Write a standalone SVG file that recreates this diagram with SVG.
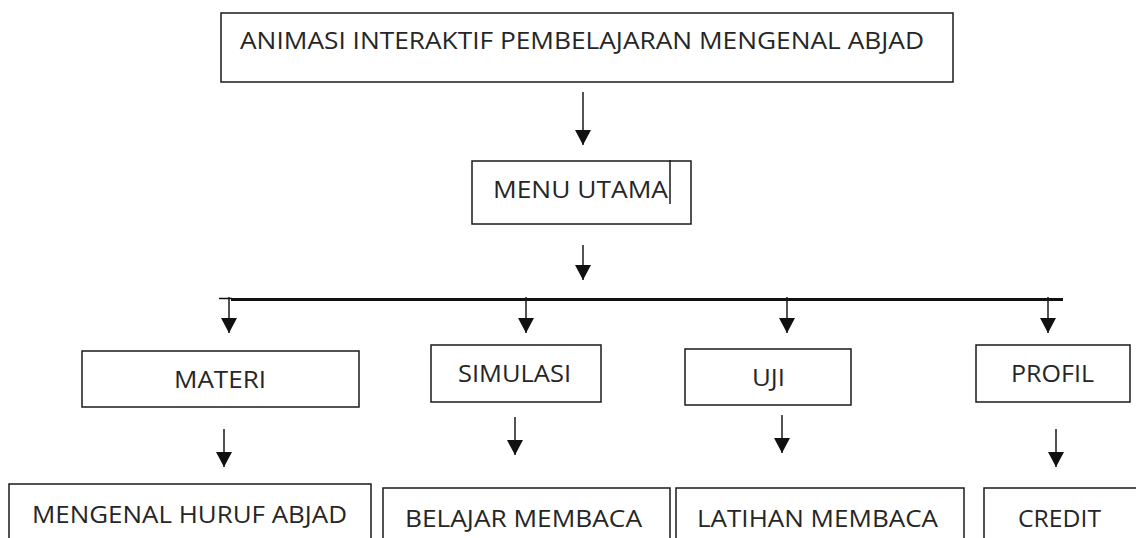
<svg xmlns="http://www.w3.org/2000/svg" width="1136" height="538" viewBox="0 0 1136 538">
<style>
.box{fill:#fff;stroke:#1a1a1a;stroke-width:1.5}
.lbl{font-family:"Open Sans","Noto Sans","Liberation Sans",sans-serif;font-size:23px;fill:#262626}
.arr{stroke:#1a1a1a;stroke-width:1.5;fill:none;marker-end:url(#ah)}
</style>
<defs>
<marker id="ah" viewBox="0 0 15 16" markerUnits="userSpaceOnUse" markerWidth="15" markerHeight="16" refX="15" refY="8" orient="auto">
<path d="M0,0 L15,8 L0,16 Z" fill="#111"/>
</marker>
</defs>
<rect width="1136" height="538" fill="#fff"/>
<g id="connectors">
<line class="arr" x1="583" y1="92" x2="583" y2="145"/>
<line class="arr" x1="583" y1="245" x2="583" y2="280"/>
<line x1="231" y1="299.5" x2="1063" y2="299.5" stroke="#111" stroke-width="3"/>
<line x1="219" y1="298.5" x2="232" y2="298.5" stroke="#111" stroke-width="1.5"/>
<line class="arr" x1="229" y1="297" x2="229" y2="333"/>
<line class="arr" x1="526" y1="297" x2="526" y2="333"/>
<line class="arr" x1="787" y1="297" x2="787" y2="333"/>
<line class="arr" x1="1048" y1="297" x2="1048" y2="333"/>
<line class="arr" x1="224" y1="429" x2="224" y2="467"/>
<line class="arr" x1="515" y1="417" x2="515" y2="455"/>
<line class="arr" x1="782" y1="415" x2="782" y2="453"/>
<line class="arr" x1="1056" y1="429" x2="1056" y2="467"/>
</g>
<g id="node-title">
<rect class="box" x="221" y="13" width="732" height="69"/>
<text class="lbl" x="240" y="49" textLength="684" lengthAdjust="spacingAndGlyphs">ANIMASI INTERAKTIF PEMBELAJARAN MENGENAL ABJAD</text>
</g>
<g id="node-menu">
<rect class="box" x="472" y="161" width="219" height="63"/>
<text class="lbl" x="493" y="198" textLength="175" lengthAdjust="spacingAndGlyphs">MENU UTAMA</text>
<line x1="670" y1="160" x2="670" y2="204" stroke="#1a1a1a" stroke-width="1.5"/>
</g>
<g id="node-materi">
<rect class="box" x="82" y="351" width="277" height="56"/>
<text class="lbl" x="174" y="388" textLength="92" lengthAdjust="spacingAndGlyphs">MATERI</text>
</g>
<g id="node-simulasi">
<rect class="box" x="431" y="345" width="170" height="57"/>
<text class="lbl" x="458" y="382" textLength="113" lengthAdjust="spacingAndGlyphs">SIMULASI</text>
</g>
<g id="node-uji">
<rect class="box" x="685" y="349" width="166" height="56"/>
<text class="lbl" x="752" y="386" textLength="33" lengthAdjust="spacingAndGlyphs">UJI</text>
</g>
<g id="node-profil">
<rect class="box" x="976" y="345" width="154" height="57"/>
<text class="lbl" x="1011" y="382" textLength="83" lengthAdjust="spacingAndGlyphs">PROFIL</text>
</g>
<g id="node-mengenal">
<rect class="box" x="9" y="484" width="362" height="64"/>
<text class="lbl" x="32" y="523" textLength="315" lengthAdjust="spacingAndGlyphs">MENGENAL HURUF ABJAD</text>
</g>
<g id="node-belajar">
<rect class="box" x="383" y="488" width="287" height="60"/>
<text class="lbl" x="405" y="527" textLength="237" lengthAdjust="spacingAndGlyphs">BELAJAR MEMBACA</text>
</g>
<g id="node-latihan">
<rect class="box" x="676" y="488" width="288" height="60"/>
<text class="lbl" x="697" y="527" textLength="241" lengthAdjust="spacingAndGlyphs">LATIHAN MEMBACA</text>
</g>
<g id="node-credit">
<rect class="box" x="984" y="488" width="160" height="60"/>
<text class="lbl" x="1018" y="527" textLength="83" lengthAdjust="spacingAndGlyphs">CREDIT</text>
</g>
</svg>
